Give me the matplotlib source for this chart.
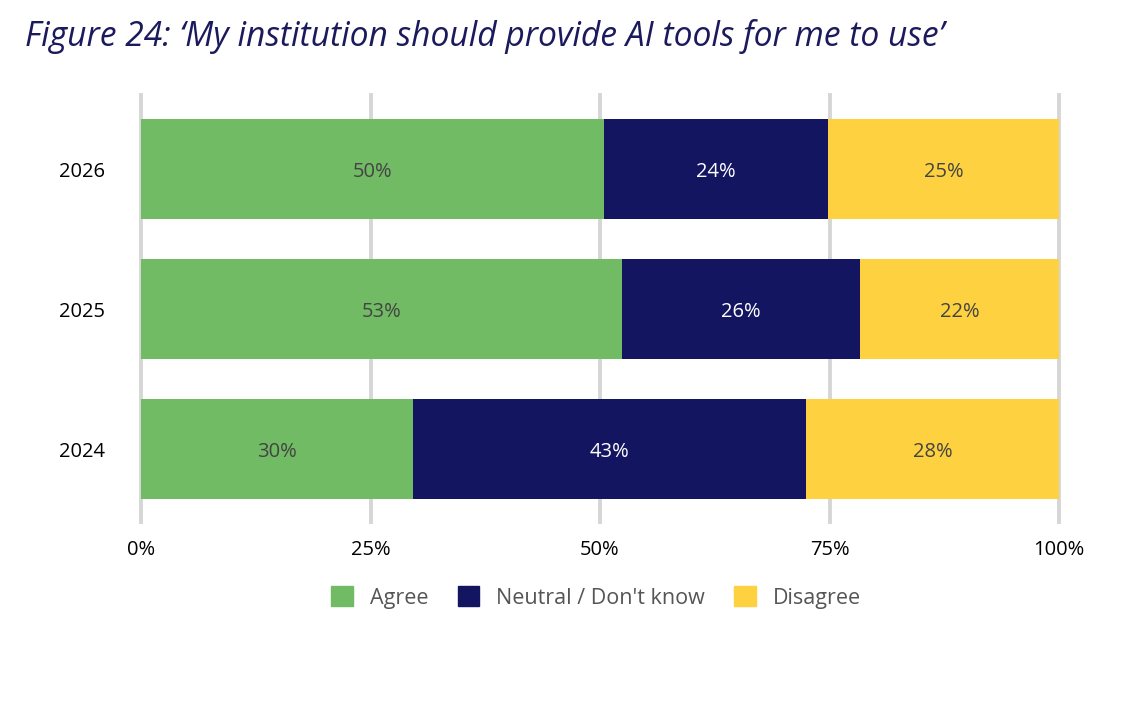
import matplotlib
matplotlib.use("Agg")
import matplotlib.pyplot as plt
import numpy as np
from matplotlib.patches import Patch

plt.rcParams['font.family'] = ['Open Sans', 'DejaVu Sans']

years = ['2024', '2025', '2026']
agree = [29.6, 52.4, 50.4]
neutral = [42.8, 25.9, 24.4]
disagree = [27.6, 21.7, 25.2]
agree_lbl = ['30%', '53%', '50%']
neutral_lbl = ['43%', '26%', '24%']
disagree_lbl = ['28%', '22%', '25%']
series_names = ['Agree', "Neutral / Don't know", 'Disagree']
xticks = [0, 25, 50, 75, 100]
xtick_lbl = ['0%', '25%', '50%', '75%', '100%']

col_green = '#71BB65'
col_navy = '#141560'
col_yellow = '#FDD13F'

fig = plt.figure(figsize=(11.25, 7.26), dpi=100)
ax = fig.add_axes([141 / 1125, 0.281, 918 / 1125, 0.588])

y = np.arange(len(years))
h = 0.715
left = np.zeros(len(years))
for vals, lbls, col, tcol in [(agree, agree_lbl, col_green, '#444444'),
                              (neutral, neutral_lbl, col_navy, 'white'),
                              (disagree, disagree_lbl, col_yellow, '#444444')]:
    vals = np.array(vals)
    ax.barh(y, vals, left=left, height=h, color=col, zorder=3)
    for i in range(len(years)):
        ax.text(left[i] + vals[i] / 2, y[i], lbls[i], ha='center', va='center_baseline',
                fontsize=14.5, color=tcol, zorder=4)
    left = left + vals

ax.set_xlim(0, 100)
ax.set_ylim(-0.52, 2.53)
ax.set_xticks(xticks)
ax.set_xticklabels(xtick_lbl, fontsize=14.5, color='black')
ax.set_yticks(y)
ax.set_yticklabels(years, fontsize=14.5, color='black')
ax.tick_params(axis='both', length=0)
ax.tick_params(axis='x', pad=13)
ax.tick_params(axis='y', pad=26)
for s in ax.spines.values():
    s.set_visible(False)
ax.grid(axis='x', color='#d6d6d6', linewidth=2.8, zorder=0)
ax.set_axisbelow(True)
for gl in ax.get_xgridlines():
    gl.set_clip_on(False)

handles = [Patch(color=c) for c in [col_green, col_navy, col_yellow]]
leg = fig.legend(handles, series_names, loc='center', bbox_to_anchor=(0.53, 0.177),
                 ncol=3, frameon=False, fontsize=15.5, handlelength=1.0, handleheight=1.0,
                 columnspacing=1.35, handletextpad=0.8)
for t in leg.get_texts():
    t.set_color('#555555')

fig.text(0.022, 0.95, "Figure 24: \u2018My institution should provide AI tools for me to use\u2019",
         fontsize=24.2, style='italic', color='#1b1a5c', ha='left', va='center')

fig.savefig('out.png', dpi=100)
